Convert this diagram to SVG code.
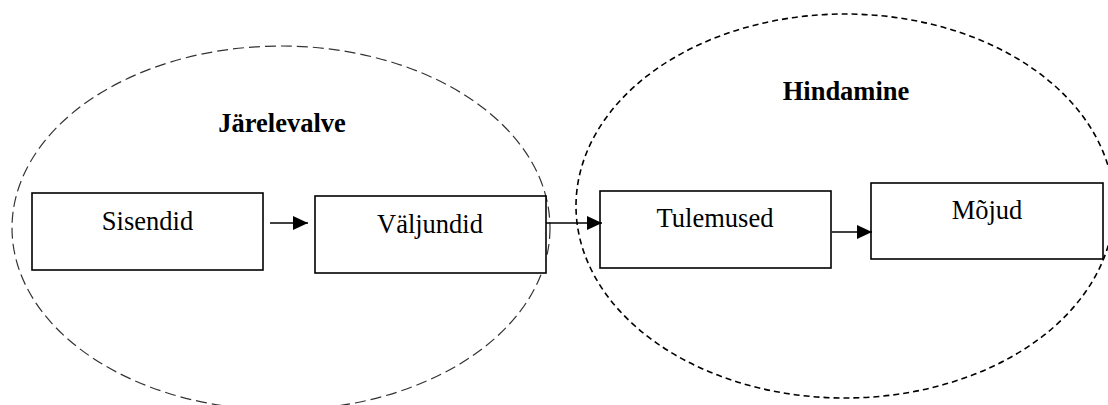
<svg xmlns="http://www.w3.org/2000/svg" width="1108" height="405" viewBox="0 0 1108 405">
<style>
.box{fill:#fff;stroke:#000;stroke-width:1.6}
.lbl{font-family:"Liberation Serif","Times New Roman",serif;font-size:26.5px;fill:#000;text-anchor:middle}
.title{font-family:"Liberation Serif","Times New Roman",serif;font-size:26.5px;font-weight:bold;fill:#000;text-anchor:middle}
.conn{stroke:#000;stroke-width:1.6;fill:none;marker-end:url(#ah)}
</style>
<defs>
<marker id="ah" markerUnits="userSpaceOnUse" markerWidth="16" markerHeight="14" refX="15" refY="7" orient="auto">
<path d="M0,0 L15,7 L0,14 Z" fill="#000"/>
</marker>
</defs>
<rect width="1108" height="405" fill="#fff"/>
<g id="jarelevalve">
<ellipse cx="281" cy="228" rx="269" ry="182" fill="none" stroke="#333" stroke-width="1.2" stroke-dasharray="11 5"/>
<text class="title" x="282" y="132">Järelevalve</text>
</g>
<g id="hindamine">
<ellipse cx="845" cy="206" rx="269" ry="192" fill="none" stroke="#000" stroke-width="1.6" stroke-dasharray="6 4"/>
<text class="title" x="846" y="100">Hindamine</text>
</g>
<g id="sisendid">
<rect class="box" x="32" y="193" width="231" height="77"/>
<text class="lbl" x="147.5" y="230">Sisendid</text>
</g>
<g id="valjundid">
<rect class="box" x="315" y="196" width="231" height="77"/>
<text class="lbl" x="430" y="233">Väljundid</text>
</g>
<g id="tulemused">
<rect class="box" x="600" y="191" width="231" height="77"/>
<text class="lbl" x="715" y="227">Tulemused</text>
</g>
<g id="mojud">
<rect class="box" x="871" y="183" width="232" height="76"/>
<text class="lbl" x="987" y="219">Mõjud</text>
</g>
<g id="connectors">
<line class="conn" x1="270" y1="223" x2="308" y2="223"/>
<line class="conn" x1="546" y1="223" x2="602" y2="223"/>
<line class="conn" x1="832" y1="232" x2="872" y2="232"/>
</g>
</svg>
